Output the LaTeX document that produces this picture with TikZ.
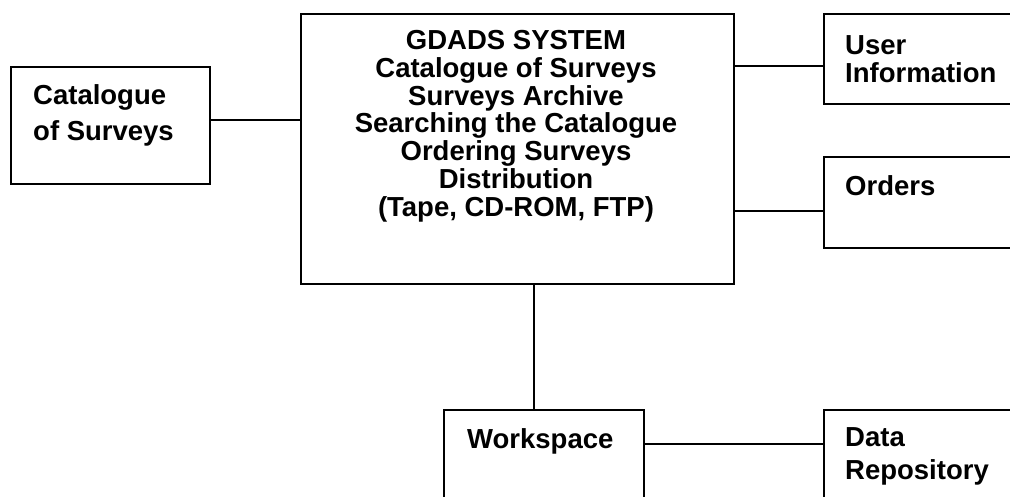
\documentclass[tikz,border=0pt]{standalone}
\usepackage{fontspec}
\setmainfont{Liberation Sans}
\begin{document}
\begin{tikzpicture}[x=1pt,y=-1pt,
  box/.style={draw=black,line width=2pt,inner sep=0pt,anchor=north west,rectangle},
  txt/.style={font=\fontsize{27.5}{31}\selectfont\bfseries,inner sep=0pt},
  link/.style={draw=black,line width=2pt}]
\useasboundingbox (0,0) rectangle (1010,496);
\clip (0,0) rectangle (1010,496);
% boxes
\node[box,minimum width=199pt,minimum height=117pt] (cat) at (10,66) {};
\node[box,minimum width=433pt,minimum height=270pt] (main) at (300,13) {};
\node[box,minimum width=240pt,minimum height=90pt] (user) at (823,13) {};
\node[box,minimum width=240pt,minimum height=91pt] (orders) at (823,156) {};
\node[box,minimum width=200pt,minimum height=120pt] (work) at (443,409) {};
\node[box,minimum width=240pt,minimum height=120pt] (data) at (823,409) {};
% texts (base anchor = baseline of the last line)
\node[txt,anchor=base west,align=left,font=\fontsize{27.5}{36}\selectfont\bfseries] (cattxt) at (33,140) {Catalogue\\of Surveys};
\node[txt,anchor=base,align=center,font=\fontsize{27.5}{27.7}\selectfont\bfseries] (maintxt) at (516,216) {GDADS SYSTEM\\Catalogue of Surveys\\Surveys Archive\\Searching the Catalogue\\Ordering Surveys\\Distribution\\(Tape, CD-ROM, FTP)};
\node[txt,anchor=base west,align=left,font=\fontsize{27.5}{28}\selectfont\bfseries] (usertxt) at (845,82) {User\\Information};
\node[txt,anchor=base west] (orderstxt) at (845,195) {Orders};
\node[txt,anchor=base west] (worktxt) at (467,448) {Workspace};
\node[txt,anchor=base west,align=left,font=\fontsize{27.5}{33}\selectfont\bfseries] (datatxt) at (845,479) {Data\\Repository};
% connectors
\draw[link] (cat.east |- 0,120) -- (main.west |- 0,120);
\draw[link] (main.east |- 0,66) -- (user.west |- 0,66);
\draw[link] (main.east |- 0,211) -- (orders.west |- 0,211);
\draw[link] (main.south -| 534,0) -- (work.north -| 534,0);
\draw[link] (work.east |- 0,444) -- (data.west |- 0,444);
\end{tikzpicture}
\end{document}
